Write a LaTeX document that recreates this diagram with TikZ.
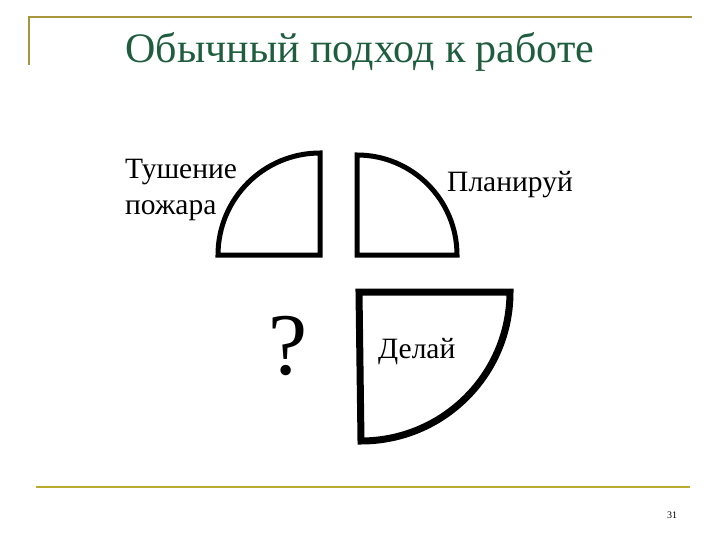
\documentclass[tikz,border=0pt]{standalone}
\usepackage{fontspec}
\setmainfont{Liberation Serif}
\definecolor{rule}{HTML}{A8963A}
\definecolor{titlegreen}{HTML}{1E5E3E}
\begin{document}
\begin{tikzpicture}[x=1pt,y=-1pt,
  quarter/.style={line width=5pt,line join=miter},
  label/.style={inner sep=0pt,font=\fontsize{29.5}{36}\selectfont}]
\useasboundingbox (0,0) rectangle (720,540);
\fill[white] (0,0) rectangle (720,540);
% frame rules
\draw[rule,line width=2.2pt] (29,65) -- (29,17) -- (692,17);
\draw[rule!80!yellow,line width=2.5pt] (36,487) -- (690,487);
% title
\node[inner sep=0pt,text=titlegreen,font=\fontsize{42}{44}\selectfont] (title) at (360,52) {Обычный подход к работе};
% quarters
\draw[quarter] (320,255) -- (218,255) arc[start angle=180,end angle=270,radius=102] -- cycle;
\draw[quarter] (357,255) -- (357,155) arc[start angle=270,end angle=360,radius=100] -- cycle;
\draw[line width=7pt,line join=miter] (359,292) -- (510,292) arc[start angle=0,end angle=90,radius=149] -- cycle;
% labels
\node[label,align=left,anchor=west] (fire) at (125,190) {Тушение\\пожара};
\node[label,anchor=west] (plan) at (447,185) {Планируй};
\node[label,anchor=west] (do) at (378,352) {Делай};
\node[inner sep=0pt,font=\fontsize{88}{88}\selectfont] (q) at (288,346) {?};
\node[inner sep=0pt,font=\fontsize{10}{10}\selectfont] (num) at (672,515) {31};
\end{tikzpicture}
\end{document}
